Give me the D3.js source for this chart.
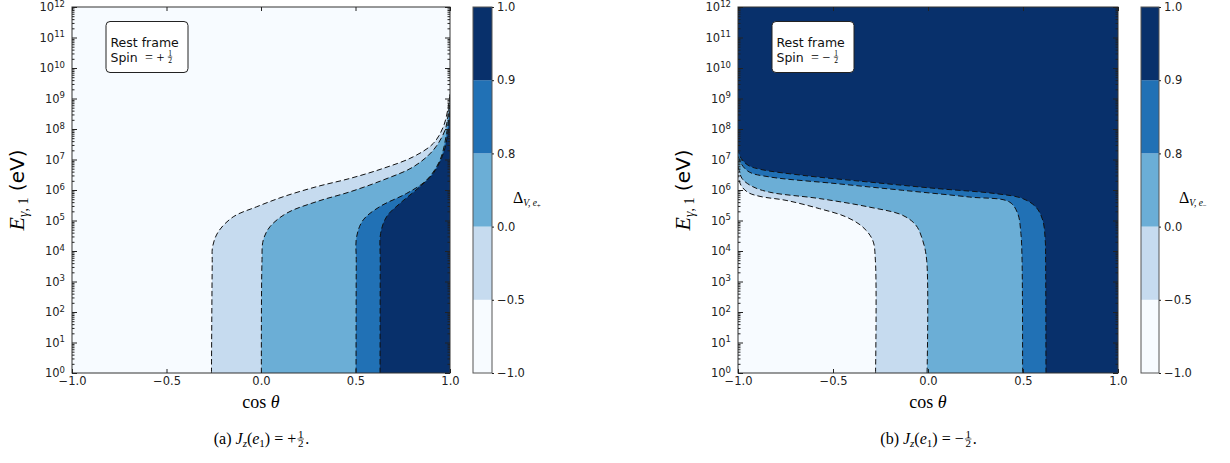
<!DOCTYPE html>
<html><head><meta charset="utf-8">
<script src="https://cdn.jsdelivr.net/npm/d3@7"></script>
<style>body{margin:0;background:#fff;} svg{display:block;}</style>
</head><body><svg id="c" width="1230" height="463"></svg>
<script>
// ---------- data ----------
const cosTicks = [-1.0, -0.5, 0.0, 0.5, 1.0];
const energyExps = d3.range(0, 13);              // 10^0 ... 10^12 eV
const levels = [-1.0, -0.5, 0.0, 0.8, 0.9, 1.0];
const levelLabels = ["−1.0", "−0.5", "0.0", "0.8", "0.9", "1.0"];
const bandColors = ["#f7fbff", "#c6dbef", "#6baed6", "#2171b5", "#08306b"];

// contour boundaries [cosθ, log10(E/eV)], panel (a) spin +1/2
const plusLevelM05 = [[-0.262,0],[-0.258,3.6],[-0.256,4.14],[-0.226,4.63],[-0.147,5.12],[-0.023,5.45],[0.118,5.78],[0.295,6.11],[0.471,6.38],[0.647,6.71],[0.806,7.09],[0.912,7.53],[0.965,8.08],[0.991,8.73],[1.0,9.2]];
const plusLevel00  = [[0.002,0],[0.005,3.6],[0.012,4.36],[0.048,4.80],[0.136,5.24],[0.295,5.62],[0.471,5.94],[0.647,6.33],[0.806,6.76],[0.912,7.31],[0.974,7.97],[0.991,8.52],[1.0,8.95]];
const plusLevel08  = [[0.503,0],[0.504,3.6],[0.506,4.47],[0.541,5.02],[0.630,5.46],[0.771,5.89],[0.877,6.33],[0.947,6.98],[0.982,7.86],[0.996,8.52],[1.0,8.8]];
const plusLevel09  = [[0.630,0],[0.631,3.6],[0.633,4.58],[0.665,5.13],[0.735,5.56],[0.841,6.11],[0.912,6.55],[0.965,7.20],[0.991,7.97],[1.0,8.62]];
// panel (b) spin -1/2
const minusLevelM05 = [[-0.276,0],[-0.277,3.70],[-0.291,4.35],[-0.344,4.79],[-0.432,5.12],[-0.572,5.39],[-0.747,5.66],[-0.884,5.79],[-0.947,5.92],[-0.984,6.15],[-1.0,6.48]];
const minusLevel00  = [[-0.005,0],[-0.007,3.70],[-0.028,4.35],[-0.063,4.84],[-0.133,5.17],[-0.309,5.44],[-0.572,5.72],[-0.835,5.93],[-0.926,6.12],[-0.979,6.38],[-1.0,6.81]];
const minusLevel08  = [[0.498,0],[0.495,3.70],[0.489,4.57],[0.472,5.23],[0.428,5.61],[0.217,5.77],[-0.133,5.99],[-0.484,6.21],[-0.835,6.43],[-0.941,6.59],[-0.984,6.87],[-1.0,7.14]];
const minusLevel09  = [[0.621,0],[0.619,3.70],[0.617,4.35],[0.604,5.01],[0.568,5.44],[0.498,5.72],[0.358,5.88],[0.042,6.05],[-0.309,6.26],[-0.659,6.48],[-0.884,6.68],[-0.947,6.81],[-0.984,7.04],[-1.0,7.30]];

const panels = [
  {id:"a", x0:72, x1:450, cb0:473, cb1:492, bounds:[plusLevelM05, plusLevel00, plusLevel08, plusLevel09],
   sign:"+", subSign:"+", caption:"(a) ", ytitleX:17, cbLabelX:513},
  {id:"b", x0:738, x1:1118, cb0:1141, cb1:1159, bounds:[minusLevelM05, minusLevel00, minusLevel08, minusLevel09],
   sign:"−", subSign:"−", caption:"(b) ", ytitleX:683, cbLabelX:1179}
];
const yTop = 7, yBot = 373;
const sansF = "DejaVu Sans, sans-serif";
const serifF = "Liberation Serif, DejaVu Serif, serif";

const svg = d3.select("#c");
svg.append("rect").attr("width",1230).attr("height",463).attr("fill","#fff");

function fraction(g, x, yBar, size, font){
  g.append("text").attr("x",x).attr("y",yBar-1.5).attr("text-anchor","middle")
    .attr("font-family",font).attr("font-size",size).text("1");
  g.append("line").attr("x1",x-size*0.3).attr("x2",x+size*0.3).attr("y1",yBar).attr("y2",yBar)
    .attr("stroke","#000").attr("stroke-width",0.6);
  g.append("text").attr("x",x).attr("y",yBar+size*0.75).attr("text-anchor","middle")
    .attr("font-family",font).attr("font-size",size).text("2");
}

panels.forEach((p, pi) => {
  const x = d3.scaleLinear().domain([-1,1]).range([p.x0, p.x1]);
  const y = d3.scaleLinear().domain([0,12]).range([yBot, yTop]);   // log10 E
  const yLog = d3.scaleLog().domain([1,1e12]).range([yBot, yTop]);
  const g = svg.append("g");
  const clipId = "clip"+p.id;
  svg.append("clipPath").attr("id",clipId).append("rect")
    .attr("x",p.x0).attr("y",yTop).attr("width",p.x1-p.x0).attr("height",yBot-yTop);
  const fills = g.append("g").attr("clip-path",`url(#${clipId})`);
  const line = d3.line().x(d=>x(d[0])).y(d=>y(d[1])).curve(d3.curveCatmullRom.alpha(0.5));

  if (pi === 0) {
    fills.append("rect").attr("x",p.x0).attr("y",yTop).attr("width",p.x1-p.x0).attr("height",yBot-yTop).attr("fill",bandColors[0]);
    p.bounds.forEach((b,k) => {
      fills.append("path").attr("d", line(b) + `L${x(1)+2},${y(b[b.length-1][1])}L${x(1)+2},${y(0)+2}L${x(b[0][0])},${y(0)+2}Z`)
        .attr("fill", bandColors[k+1]);
    });
  } else {
    fills.append("rect").attr("x",p.x0).attr("y",yTop).attr("width",p.x1-p.x0).attr("height",yBot-yTop).attr("fill",bandColors[4]);
    for (let k=3;k>=0;k--){
      const b = p.bounds[k];
      fills.append("path").attr("d", line(b) + `L${x(-1)-2},${y(b[b.length-1][1])}L${x(-1)-2},${y(0)+2}L${x(b[0][0])},${y(0)+2}Z`)
        .attr("fill", bandColors[k]);
    }
  }
  p.bounds.forEach(b => {
    fills.append("path").attr("d", line(b)).attr("fill","none").attr("stroke","#111")
      .attr("stroke-width",1).attr("stroke-dasharray","5.5,3");
  });

  // frame
  g.append("rect").attr("x",p.x0).attr("y",yTop).attr("width",p.x1-p.x0).attr("height",yBot-yTop)
    .attr("fill","none").attr("stroke","#333").attr("stroke-width",1);

  const majors = energyExps.map(e => Math.pow(10,e));
  const minors = [];
  energyExps.slice(0,-1).forEach(e => { for (let m=2;m<=9;m++) minors.push(m*Math.pow(10,e)); });

  const tickStyle = sel => { sel.select(".domain").remove(); sel.selectAll("line").attr("stroke","#222"); };
  g.append("g").attr("transform",`translate(${p.x0},0)`).call(d3.axisRight(yLog).tickValues(majors).tickSize(5).tickFormat("")).call(tickStyle);
  g.append("g").attr("transform",`translate(${p.x0},0)`).call(d3.axisRight(yLog).tickValues(minors).tickSize(2.5).tickFormat("")).call(tickStyle);
  g.append("g").attr("transform",`translate(${p.x1},0)`).call(d3.axisLeft(yLog).tickValues(majors).tickSize(5).tickFormat("")).call(tickStyle);
  g.append("g").attr("transform",`translate(${p.x1},0)`).call(d3.axisLeft(yLog).tickValues(minors).tickSize(2.5).tickFormat("")).call(tickStyle);
  const yl = g.append("g").attr("transform",`translate(${p.x0},0)`)
    .call(d3.axisLeft(yLog).tickValues(majors).tickSize(0).tickPadding(7));
  yl.select(".domain").remove();
  yl.selectAll("text").attr("font-family",sansF).attr("font-size","11.5px").attr("fill","#222")
    .each(function(d){
      const t = d3.select(this); t.text("10");
      t.append("tspan").attr("dy","-0.5em").attr("font-size","8.5px").text(Math.round(Math.log10(d)));
    });

  g.append("g").attr("transform",`translate(0,${yBot})`).call(d3.axisTop(x).tickValues(cosTicks).tickSize(4).tickFormat("")).call(tickStyle);
  g.append("g").attr("transform",`translate(0,${yTop})`).call(d3.axisBottom(x).tickValues(cosTicks).tickSize(4).tickFormat("")).call(tickStyle);
  const xl = g.append("g").attr("transform",`translate(0,${yBot})`)
    .call(d3.axisBottom(x).tickValues(cosTicks).tickSize(0).tickPadding(4).tickFormat(d => d3.format(".1f")(d).replace("-","−")));
  xl.select(".domain").remove();
  xl.selectAll("text").attr("font-family",sansF).attr("font-size","11.5px").attr("fill","#222");

  // x title
  const xt = g.append("text").attr("x",x(0)).attr("y",408).attr("text-anchor","middle")
    .attr("font-family",serifF).attr("font-size","18px");
  xt.append("tspan").text("cos ");
  xt.append("tspan").attr("font-style","italic").text("θ");

  // y title
  const yt = g.append("text").attr("transform",`translate(${p.ytitleX+7},190) rotate(-90)`).attr("text-anchor","middle");
  yt.append("tspan").attr("font-family",serifF).attr("font-style","italic").attr("font-size","22px").text("E");
  yt.append("tspan").attr("font-family",serifF).attr("font-style","italic").attr("font-size","14px").attr("dy","4").text("γ");
  yt.append("tspan").attr("font-family",serifF).attr("font-size","14px").text(", 1");
  yt.append("tspan").attr("font-family",sansF).attr("font-size","20px").attr("dy","-4").text(" (eV)");

  // legend box
  const lx = p.x0 + 34;
  const lg = g.append("g");
  lg.append("rect").attr("x",lx).attr("y",21.5).attr("width",82).attr("height",51).attr("rx",4)
    .attr("fill","#fff").attr("stroke","#222").attr("stroke-width",1);
  lg.append("text").attr("x",lx+4.5).attr("y",46.5).attr("font-family",sansF).attr("font-size","12.5px").attr("fill","#111").text("Rest frame");
  lg.append("text").attr("x",lx+4.5).attr("y",61.8).attr("font-family",sansF).attr("font-size","12.5px").attr("fill","#111").text("Spin");
  lg.append("text").attr("x",lx+43).attr("y",61.8).attr("text-anchor","middle").attr("font-family",serifF).attr("font-size","14px").text("=");
  lg.append("text").attr("x",lx+54.5).attr("y",61.8).attr("text-anchor","middle").attr("font-family",serifF).attr("font-size","14px").text(p.sign);
  fraction(lg, lx+64, 57, 7.5, serifF);

  // colorbar
  const cy = d3.scalePoint().domain(levels).range([yBot, yTop]);
  const cbg = g.append("g");
  levels.slice(0,-1).forEach((lv,i) => {
    cbg.append("rect").attr("x",p.cb0).attr("y",cy(levels[i+1])).attr("width",p.cb1-p.cb0)
      .attr("height",cy(lv)-cy(levels[i+1])).attr("fill",bandColors[i]);
  });
  cbg.append("rect").attr("x",p.cb0).attr("y",yTop).attr("width",p.cb1-p.cb0).attr("height",yBot-yTop)
    .attr("fill","none").attr("stroke","#555").attr("stroke-width",1);
  const ca = cbg.append("g").attr("transform",`translate(${p.cb1},0)`)
    .call(d3.axisRight(cy).tickSize(2).tickPadding(3).tickFormat((d,i)=>levelLabels[i]));
  ca.select(".domain").remove();
  ca.selectAll("line").attr("stroke","#222");
  ca.selectAll("text").attr("font-family",sansF).attr("font-size","11.5px").attr("fill","#222");
  const cl = cbg.append("text").attr("x",p.cbLabelX).attr("y",203).attr("font-family",serifF);
  cl.append("tspan").attr("font-size","16px").text("Δ");
  cl.append("tspan").attr("font-size","9.5px").attr("font-style","italic").attr("dy","3").text("V, e");
  cl.append("tspan").attr("font-size","7px").attr("dy","2").text(p.subSign);

  // caption
  const cap = svg.append("g");
  const ct = cap.append("text").attr("x",0).attr("y",444).attr("font-family",serifF).attr("font-size","16px");
  ct.append("tspan").text(p.caption);
  ct.append("tspan").attr("font-style","italic").text("J");
  ct.append("tspan").attr("font-style","italic").attr("font-size","11px").attr("dy","3").text("z");
  ct.append("tspan").attr("dy","-3").text("(");
  ct.append("tspan").attr("font-style","italic").text("e");
  ct.append("tspan").attr("font-size","11px").attr("dy","3").text("1");
  ct.append("tspan").attr("dy","-3").text(") = " + p.sign);
  const w = ct.node().getComputedTextLength();
  fraction(cap, w + 4.5, 439, 11, serifF);
  cap.append("text").attr("x",w+9).attr("y",444).attr("font-family",serifF).attr("font-size","16px").text(".");
  const total = w + 12;
  cap.attr("transform",`translate(${x(0) - total/2},0)`);
});
</script></body></html>
